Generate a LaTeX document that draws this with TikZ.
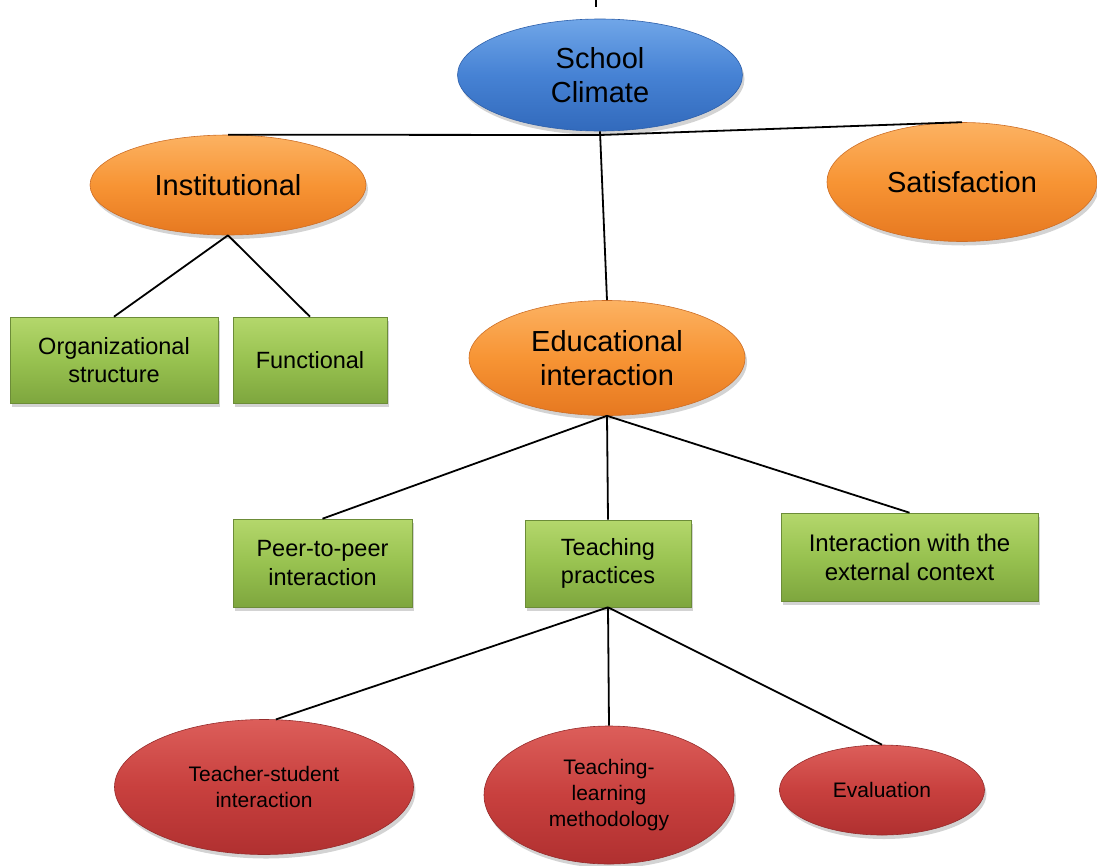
\documentclass[tikz,border=0pt]{standalone}
\usepackage{fontspec}
\setmainfont{Liberation Sans}
\usetikzlibrary{shapes.geometric,shadows}
\definecolor{blueM}{RGB}{70,130,212}
\definecolor{blueT}{RGB}{112,166,232}
\definecolor{blueB}{RGB}{50,106,188}
\definecolor{blueD}{RGB}{45,95,170}
\definecolor{orM}{RGB}{247,148,52}
\definecolor{orT}{RGB}{252,178,98}
\definecolor{orB}{RGB}{230,120,32}
\definecolor{orD}{RGB}{205,110,38}
\definecolor{grM}{RGB}{152,194,80}
\definecolor{grT}{RGB}{180,215,108}
\definecolor{grB}{RGB}{126,166,62}
\definecolor{grD}{RGB}{108,140,56}
\definecolor{rdM}{RGB}{200,64,62}
\definecolor{rdT}{RGB}{220,94,90}
\definecolor{rdB}{RGB}{176,48,48}
\definecolor{rdD}{RGB}{150,44,44}
\tikzset{
  sh/.style={drop shadow={shadow xshift=2pt,shadow yshift=-4pt,opacity=0.35}},
  oval/.style={ellipse,inner sep=0pt,align=center,line width=0.6pt,sh},
  blueov/.style={oval,top color=blueT,bottom color=blueB,middle color=blueM,draw=blueD,
    font=\fontsize{29}{33.5}\selectfont},
  orov/.style={oval,top color=orT,bottom color=orB,middle color=orM,draw=orD,
    font=\fontsize{29}{33.5}\selectfont},
  redov/.style={oval,top color=rdT,bottom color=rdB,middle color=rdM,draw=rdD,
    font=\fontsize{21}{26}\selectfont},
  grbox/.style={rectangle,inner sep=0pt,align=center,line width=0.6pt,sh,
    top color=grT,bottom color=grB,middle color=grM,draw=grD,
    font=\fontsize{23.5}{28.5}\selectfont},
  link/.style={line width=1.8pt,black},
}
\begin{document}
\begin{tikzpicture}[x=1pt,y=-1pt]
\useasboundingbox (0,0) rectangle (1097,865);
% nodes
\node[blueov,minimum width=285,minimum height=112] (sc) at (600,75) {School\\Climate};
\node[orov,minimum width=276,minimum height=100] (inst) at (228,185) {Institutional};
\node[orov,minimum width=270,minimum height=119] (sat) at (962,182) {Satisfaction};
\node[orov,minimum width=276,minimum height=115] (edu) at (607,358) {Educational\\interaction};
\node[grbox,minimum width=208,minimum height=86] (org) at (114,360) {Organizational\\structure};
\node[grbox,minimum width=154,minimum height=86] (func) at (310,360) {Functional};
\node[grbox,minimum width=179,minimum height=88] (peer) at (322.5,563) {Peer-to-peer\\interaction};
\node[grbox,minimum width=166,minimum height=87] (teach) at (608,563.5) {Teaching\\practices};
\node[grbox,minimum width=257,minimum height=88,font=\fontsize{24}{29}\selectfont] (ext) at (909.5,557) {Interaction with the\\external context};
\node[redov,minimum width=299,minimum height=135] (ts) at (264,787) {Teacher-student\\interaction};
\node[redov,minimum width=250,minimum height=138] (tlm) at (609,795) {Teaching-\\learning\\methodology};
\node[redov,minimum width=205,minimum height=90] (eval) at (882,790) {Evaluation};
% junction and tick
\coordinate (j) at (600,135);
\coordinate (t0) at (596,0);
\coordinate (t1) at (596,7);
% connectors
\draw[link] (t0) -- (t1);
\draw[link] (inst.north) -- (j) -- (sat.north);
\draw[link] (sc.south) -- (edu.north);
\draw[link] (inst.south) -- (org.north);
\draw[link] (inst.south) -- (func.north);
\draw[link] (edu.south) -- (peer.north);
\draw[link] (edu.south) -- (teach.north);
\draw[link] (edu.south) -- (ext.north);
\draw[link] (teach.south) -- (ts.80);
\draw[link] (teach.south) -- (tlm.north);
\draw[link] (teach.south) -- (eval.north);
\end{tikzpicture}
\end{document}
